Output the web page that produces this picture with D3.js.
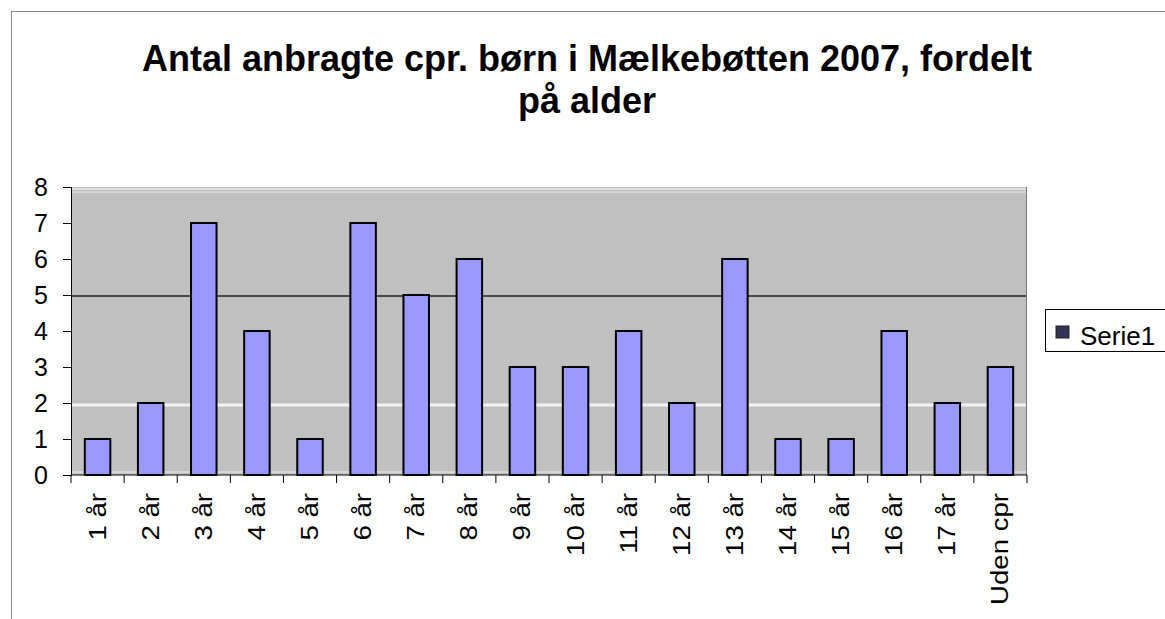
<!DOCTYPE html>
<html><head><meta charset="utf-8">
<script src="https://cdn.jsdelivr.net/npm/d3@7"></script>
<style>body{margin:0;background:#fff;}svg{display:block;font-family:"Liberation Sans",Arial,sans-serif;}</style>
</head><body>
<svg id="c" width="1165" height="619"></svg>
<script>
const categories = ["1 år","2 år","3 år","4 år","5 år","6 år","7 år","8 år","9 år","10 år","11 år","12 år","13 år","14 år","15 år","16 år","17 år","Uden cpr"];
const values = [1,2,7,4,1,7,5,6,3,3,4,2,6,1,1,4,2,3];
const yTicks = [0,1,2,3,4,5,6,7,8];
const seriesName = "Serie1";
const titleLines = ["Antal anbragte cpr. børn i Mælkebøtten 2007, fordelt","på alder"];

const svg = d3.select("#c");
// outer frame
svg.append("line").attr("x1",11).attr("x2",1165).attr("y1",11.5).attr("y2",11.5).attr("stroke","#888");
svg.append("line").attr("x1",11.5).attr("x2",11.5).attr("y1",11).attr("y2",619).attr("stroke","#888");

const L=71, R=1027, T=187, B=475;
const x = d3.scaleBand().domain(categories).range([L,R]).paddingInner(0.52).paddingOuter(0.26);
const xb = d3.scaleBand().domain(categories).range([L,R]);
const y = d3.scaleLinear().domain([0,8]).range([B,T]);

svg.append("rect").attr("x",L).attr("y",T).attr("width",R-L).attr("height",B-T).attr("fill","#c0c0c0");
svg.append("line").attr("x1",L).attr("x2",R).attr("y1",y(8)+2).attr("y2",y(8)+2).attr("stroke","#e8e8e8").attr("stroke-width",1.5);
svg.append("line").attr("x1",L).attr("x2",R).attr("y1",y(8)+5).attr("y2",y(8)+5).attr("stroke","#e8e8e8").attr("stroke-width",1);
svg.append("line").attr("x1",L).attr("x2",R).attr("y1",y(2)+2).attr("y2",y(2)+2).attr("stroke","#f2f2f2").attr("stroke-width",3);
svg.append("line").attr("x1",L).attr("x2",R).attr("y1",y(5)+1).attr("y2",y(5)+1).attr("stroke","#222").attr("stroke-width",1.5);
svg.append("line").attr("x1",L).attr("x2",R).attr("y1",B-3).attr("y2",B-3).attr("stroke","#eee").attr("stroke-width",1);
svg.append("line").attr("x1",R-0.5).attr("x2",R-0.5).attr("y1",T).attr("y2",B).attr("stroke","#777");

svg.append("g").selectAll("rect").data(values).join("rect")
  .attr("x",(d,i)=>x(categories[i])).attr("width",x.bandwidth())
  .attr("y",d=>y(d)).attr("height",d=>B-y(d))
  .attr("fill","#9999ff").attr("stroke","#000").attr("stroke-width",2);

// y axis
const ya = svg.append("g").attr("transform",`translate(${L},0)`)
  .call(d3.axisLeft(y).tickValues(yTicks).tickSize(8).tickPadding(15).tickFormat(d3.format("d")));
ya.select(".domain").attr("stroke","#000");
ya.selectAll("text").attr("font-size",25).attr("fill","#000").attr("font-family","Liberation Sans, Arial, sans-serif");

// x axis
const xa = svg.append("g").attr("transform",`translate(0,${B})`);
xa.append("line").attr("x1",L).attr("x2",R).attr("y1",0).attr("y2",0).attr("stroke","#000");
xa.selectAll("line.tk").data(d3.range(categories.length+1)).join("line").attr("class","tk")
  .attr("x1",i=>L+i*xb.step()).attr("x2",i=>L+i*xb.step()).attr("y1",0).attr("y2",8).attr("stroke","#000");
xa.selectAll("text").data(categories).join("text")
  .attr("transform",d=>`translate(${xb(d)+xb.bandwidth()/2+8},18) rotate(-90) scale(1.15,1)`)
  .attr("text-anchor","end").attr("font-size",24).attr("fill","#000").text(d=>d);

// title
svg.append("g").selectAll("text").data(titleLines).join("text")
  .attr("x",587).attr("y",(d,i)=>71+i*42).attr("text-anchor","middle")
  .attr("font-size",36).attr("font-weight","bold").attr("fill","#000").text(d=>d);

// legend
const lg = svg.append("g");
lg.append("rect").attr("x",1045.5).attr("y",309.5).attr("width",130).attr("height",42).attr("fill","#fff").attr("stroke","#000");
lg.append("rect").attr("x",1056).attr("y",326).attr("width",13).attr("height",12).attr("fill","#333355").attr("stroke","#222");
lg.append("text").attr("x",1080).attr("y",345).attr("font-size",26).attr("fill","#000").text(seriesName);
</script>
</body></html>
